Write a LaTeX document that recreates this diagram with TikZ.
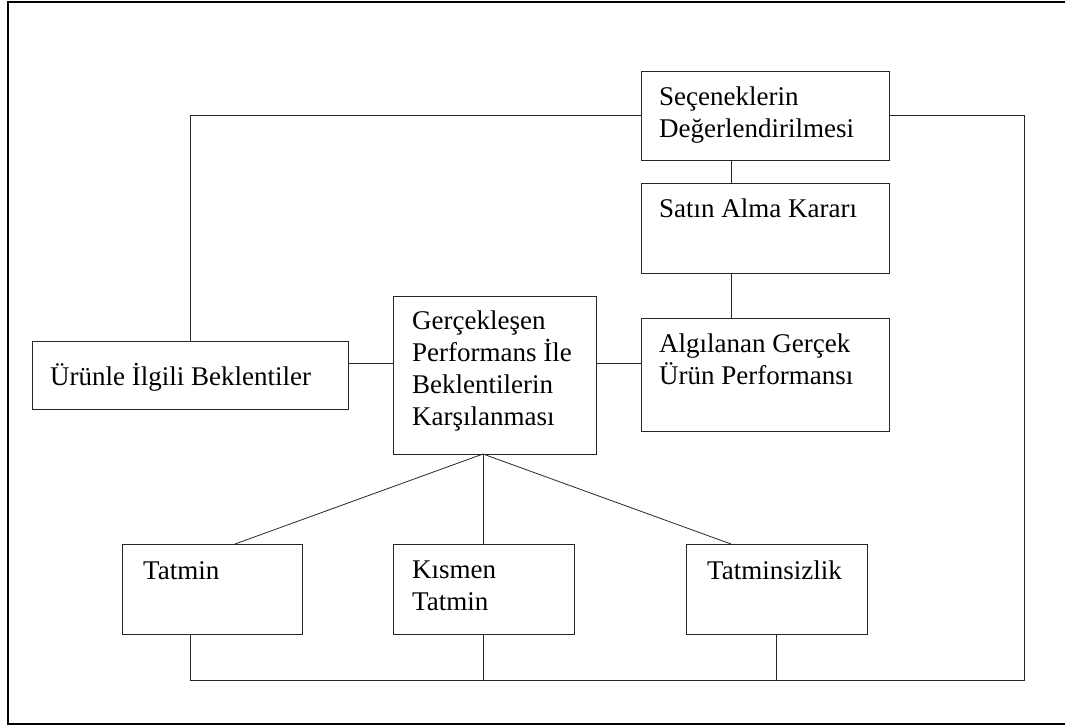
\documentclass[tikz,border=0pt]{standalone}
\usepackage{fontspec}
\setmainfont{Liberation Serif}
\begin{document}
\begin{tikzpicture}[x=1pt,y=-1pt,
  box/.style={draw=black!85,line width=0.8pt,rectangle,anchor=north west,inner sep=0pt,outer sep=0pt},
  link/.style={draw=black!85,line width=0.8pt},
  label/.style={anchor=base west,inner sep=0pt,align=left,font=\fontsize{27}{32}\selectfont}]
  \useasboundingbox (0,0) rectangle (1065,726);
  % outer frame
  \draw[line width=1.6pt] (1068,2) -- (8,2) -- (8,724) -- (1068,724);

  % boxes
  \node[box,minimum width=248pt,minimum height=89pt]  (sec) at (641,71)  {};
  \node[box,minimum width=248pt,minimum height=90pt]  (sat) at (641,183) {};
  \node[box,minimum width=248pt,minimum height=113pt] (alg) at (641,318) {};
  \node[box,minimum width=203pt,minimum height=158pt] (ger) at (393,296) {};
  \node[box,minimum width=316pt,minimum height=68pt]  (uru) at (32,341)  {};
  \node[box,minimum width=180pt,minimum height=90pt]  (tat) at (122,544) {};
  \node[box,minimum width=181pt,minimum height=90pt]  (kis) at (393,544) {};
  \node[box,minimum width=181pt,minimum height=90pt]  (tsz) at (686,544) {};

  % texts (a multi-line label sits on the baseline of its last line)
  \node[label] (tsec) at ([shift={(18pt,-66pt)}]sec.north west) {Seçeneklerin\\Değerlendirilmesi};
  \node[label] (tsat) at ([shift={(18pt,-34pt)}]sat.north west) {Satın Alma Kararı};
  \node[label] (talg) at ([shift={(18pt,-66pt)}]alg.north west) {Algılanan Gerçek\\Ürün Performansı};
  \node[label,font=\fontsize{27}{31.7}\selectfont] (tger) at ([shift={(19pt,-129pt)}]ger.north west) {Gerçekleşen\\Performans İle\\Beklentilerin\\Karşılanması};
  \node[label] (turu) at ([shift={(18pt,-44pt)}]uru.north west) {Ürünle İlgili Beklentiler};
  \node[label] (ttat) at ([shift={(21pt,-35pt)}]tat.north west) {Tatmin};
  \node[label] (tkis) at ([shift={(19pt,-66pt)}]kis.north west) {Kısmen\\Tatmin};
  \node[label] (ttsz) at ([shift={(21pt,-35pt)}]tsz.north west) {Tatminsizlik};

  % junction points
  \coordinate (hub) at ([xshift=90pt]ger.south west);
  \coordinate (br) at (1024,680);

  % vertical chain on the right
  \draw[link] ([xshift=90pt]sec.south west) -- ([xshift=90pt]sat.north west);
  \draw[link] ([xshift=90pt]sat.south west) -- ([xshift=90pt]alg.north west);

  % loop from the evaluation box back to expectations
  \draw[link] (sec.west) -| (uru.north);

  % middle row
  \draw[link] ([yshift=12pt]uru.east) -- ([yshift=12pt]uru.east -| ger.west);
  \draw[link] ([yshift=12pt]uru.east -| ger.east) -- ([yshift=12pt]uru.east -| alg.west);

  % branches to the outcomes
  \draw[link] (hub) -- ([xshift=113pt]tat.north west);
  \draw[link] (hub) -- (hub |- kis.north);
  \draw[link] (hub) -- ([xshift=45pt]tsz.north west);

  % feedback loop along the bottom and right side
  \draw[link] (sec.east) -| (br) -| ([xshift=68pt]tat.south west);
  \draw[link] (kis.south) -- (kis.south |- br);
  \draw[link] (tsz.south) -- (tsz.south |- br);
\end{tikzpicture}
\end{document}
